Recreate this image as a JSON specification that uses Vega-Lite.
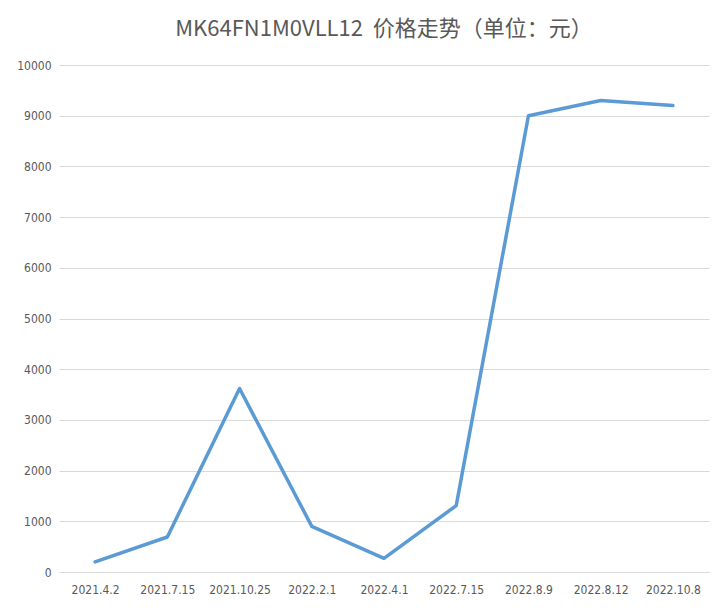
{
  "$schema": "https://vega.github.io/schema/vega-lite/v6.json",
  "width": 726,
  "height": 613,
  "autosize": {"type": "fit", "contains": "padding"},
  "padding": {"left": 16, "top": 18, "right": 17, "bottom": 18},
  "background": "white",
  "title": {
    "text": "MK64FN1M0VLL12\u00a0\u00a0价格走势（单位：元）",
    "font": "Noto Sans CJK SC",
    "fontSize": 22,
    "fontWeight": "normal",
    "color": "#595959",
    "anchor": "middle",
    "offset": 18
  },
  "data": {
    "values": [
      {"date": "2021.4.2", "price": 200},
      {"date": "2021.7.15", "price": 690},
      {"date": "2021.10.25", "price": 3620},
      {"date": "2022.2.1", "price": 900},
      {"date": "2022.4.1", "price": 270},
      {"date": "2022.7.15", "price": 1310},
      {"date": "2022.8.9", "price": 9000},
      {"date": "2022.8.12", "price": 9300},
      {"date": "2022.10.8", "price": 9200}
    ]
  },
  "mark": {"type": "line", "color": "#5B9BD5", "strokeWidth": 3.5, "strokeCap": "round", "strokeJoin": "round"},
  "encoding": {
    "x": {
      "field": "date",
      "type": "ordinal",
      "sort": null,
      "scale": {"type": "point", "padding": 0.5},
      "axis": {
        "title": null,
        "labelAngle": 0,
        "labelPadding": 12,
        "ticks": false,
        "domainColor": "#d9d9d9",
        "grid": false
      }
    },
    "y": {
      "field": "price",
      "type": "quantitative",
      "scale": {"domain": [0, 10000]},
      "axis": {
        "title": null,
        "format": "d",
        "values": [0, 1000, 2000, 3000, 4000, 5000, 6000, 7000, 8000, 9000, 10000],
        "domain": false,
        "ticks": false,
        "labelPadding": 8,
        "gridColor": "#d9d9d9"
      }
    }
  },
  "config": {
    "view": {"stroke": null},
    "axis": {
      "labelFont": "DejaVu Sans Condensed",
      "labelFontSize": 12,
      "labelColor": "#595959"
    }
  }
}
